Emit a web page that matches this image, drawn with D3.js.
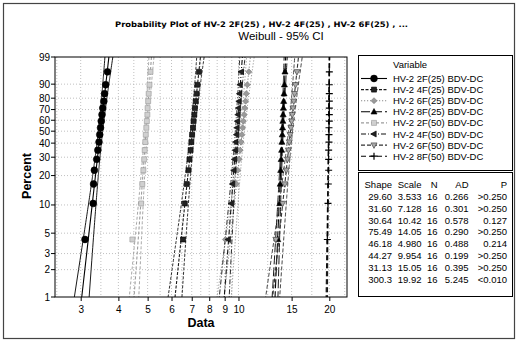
<!DOCTYPE html>
<html><head><meta charset="utf-8">
<script src="https://cdn.jsdelivr.net/npm/d3@7"></script>
<style>body{margin:0;background:#fff}svg{display:block}</style>
</head><body>
<script>
// ---------------- data ----------------
const seriesNames = ["HV-2 2F(25) BDV-DC","HV-2 4F(25) BDV-DC","HV-2 6F(25) BDV-DC","HV-2 8F(25) BDV-DC",
                     "HV-2 2F(50) BDV-DC","HV-2 4F(50) BDV-DC","HV-2 6F(50) BDV-DC","HV-2 8F(50) BDV-DC"];
const percentRanks = [4.27,10.37,16.46,22.56,28.66,34.76,40.85,46.95,53.05,59.15,65.24,71.34,77.44,83.54,89.63,95.73];
const s2F25 = [3.10,3.30,3.31,3.33,3.39,3.42,3.45,3.47,3.49,3.51,3.53,3.55,3.58,3.60,3.63,3.68];
const s4F25 = [6.55,6.64,6.74,6.83,6.88,6.94,6.98,7.02,7.07,7.10,7.14,7.17,7.22,7.27,7.31,7.40];
const s6F25 = [9.05,9.55,9.85,9.95,10.05,10.13,10.20,10.27,10.32,10.38,10.45,10.50,10.56,10.62,10.70,10.82];
const s8F25 = [13.5,13.7,13.75,13.8,13.85,13.9,13.93,13.97,14.0,14.03,14.06,14.09,14.12,14.16,14.2,14.26];
const s2F50 = [4.45,4.76,4.80,4.84,4.87,4.89,4.91,4.93,4.95,4.97,4.99,5.00,5.02,5.04,5.07,5.11];
const s4F50 = [9.25,9.48,9.56,9.66,9.71,9.77,9.80,9.86,9.89,9.93,9.97,10.0,10.05,10.09,10.13,10.22];
const s6F50 = [13.3,14.0,14.25,14.4,14.53,14.64,14.74,14.83,14.92,15.0,15.08,15.16,15.24,15.34,15.45,15.62];
const s8F50 = [19.7,19.8,19.85,19.9,19.9,19.9,19.95,19.95,19.95,20.0,20.0,20.0,20.0,20.0,20.0,20.0];
const shapes = [29.60,31.60,30.64,75.49,46.18,44.27,31.13,300.3];
const scales = [3.533,7.128,10.42,14.05,4.980,9.954,15.05,19.92];
const shapeLabels = ["29.60","31.60","30.64","75.49","46.18","44.27","31.13","300.3"];
const scaleLabels = ["3.533","7.128","10.42","14.05","4.980","9.954","15.05","19.92"];
const nLabels = ["16","16","16","16","16","16","16","16"];
const adLabels = ["0.266","0.301","0.578","0.290","0.488","0.199","0.395","5.245"];
const pLabels = [">0.250",">0.250","0.127",">0.250","0.214",">0.250",">0.250","<0.010"];
const yTicks = [1,2,3,5,10,20,30,40,50,60,70,80,90,99];
const xTicks = [3,4,5,6,7,8,9,10,15,20];
const xGrid = [2.5,3,3.5,4,4.5,5,5.5,6,6.5,7,7.5,8,8.5,9,9.5,10,12.5,15,17.5,20,22.5];
const allSeries = [s2F25,s4F25,s6F25,s8F25,s2F50,s4F50,s6F50,s8F50];

// ---------------- styles ----------------
const styles = [
  {stroke:"#000", dash:null,      fill:"#000", mstroke:"#000", sym:"circle", size:3.4},
  {stroke:"#1a1a1a", dash:"3,1.5", fill:"#222", mstroke:"#000", sym:"square", size:5},
  {stroke:"#8a8a8a", dash:"1.2,1.8", fill:"#9a9a9a", mstroke:"#777", sym:"diamond", size:6},
  {stroke:"#000", dash:"9,3",     fill:"#000", mstroke:"#000", sym:"triUp", size:5.5},
  {stroke:"#9c9c9c", dash:"3,2",  fill:"#d0d0d0", mstroke:"#999", sym:"square", size:5},
  {stroke:"#111", dash:"5,2,1,2", fill:"#222", mstroke:"#000", sym:"triLeft", size:5.5},
  {stroke:"#333", dash:"4,2",     fill:"#aaa", mstroke:"#333", sym:"triDown", size:5.5},
  {stroke:"#000", dash:"5,3",     fill:"none", mstroke:"#000", sym:"plus", size:3.5}
];

const W = 519, H = 345;
const svg = d3.select("body").append("svg").attr("width",W).attr("height",H);
const FONT = "'Liberation Sans', Arial, sans-serif";

// frame
svg.append("rect").attr("x",3.5).attr("y",3.5).attr("width",511).attr("height",335)
  .attr("fill","none").attr("stroke","#444").attr("stroke-width",1.2);

// titles
svg.append("text").attr("x",261.5).attr("y",26.5).attr("text-anchor","middle")
  .attr("font-family","'DejaVu Sans', Verdana, sans-serif").attr("font-weight","bold").attr("font-size",7.6)
  .attr("textLength",293).attr("lengthAdjust","spacingAndGlyphs")
  .text("Probability Plot of HV-2 2F(25) , HV-2 4F(25) , HV-2 6F(25) , ...");
svg.append("text").attr("x",281).attr("y",40).attr("text-anchor","middle")
  .attr("font-family",FONT).attr("font-size",11.5).text("Weibull - 95% CI");

// plot area
const L = 55, R = 347, T = 57, B = 297;
const wt = p => Math.log(-Math.log(1 - p));
const yLin = d3.scaleLinear().domain([wt(0.01), wt(0.99)]).range([B, T]);
const y = pct => yLin(wt(pct/100));
const x = d3.scaleLog().domain([2.466, 22.89]).range([L, R]);

svg.append("defs").append("clipPath").attr("id","clip")
  .append("rect").attr("x",L).attr("y",T).attr("width",R-L).attr("height",B-T);

// gridlines
const grid = svg.append("g").attr("stroke","#b0b0b0").attr("stroke-width",0.8).attr("stroke-dasharray","1,2");
grid.selectAll("line.h").data(yTicks.filter(d=>d>1 && d<99)).join("line")
  .attr("x1",L).attr("x2",R).attr("y1",d=>y(d)).attr("y2",d=>y(d));
grid.selectAll("line.v").data(xGrid.filter(d=>x(d)>L+1 && x(d)<R-1)).join("line").attr("class","v")
  .attr("x1",d=>x(d)).attr("x2",d=>x(d)).attr("y1",T).attr("y2",B);

// axes
const gy = svg.append("g");
yTicks.forEach(t=>{
  gy.append("line").attr("x1",L-4).attr("x2",L).attr("y1",y(t)).attr("y2",y(t)).attr("stroke","#000");
  gy.append("text").attr("x",L-5).attr("y",y(t)+3.5).attr("text-anchor","end")
    .attr("font-family",FONT).attr("font-size",10).text(t);
});
const gx = svg.append("g").attr("transform",`translate(0,${B})`)
  .call(d3.axisBottom(x).tickValues(xTicks).tickFormat(d3.format("d")).tickSize(4).tickSizeOuter(0));
gx.select(".domain").remove();
gx.selectAll("text").attr("font-family",FONT).attr("font-size",10).attr("dy","0.9em");

svg.append("text").attr("x",201).attr("y",327).attr("text-anchor","middle")
  .attr("font-family",FONT).attr("font-weight","bold").attr("font-size",12.5).text("Data");
svg.append("text").attr("transform","translate(31,176) rotate(-90)").attr("text-anchor","middle")
  .attr("font-family",FONT).attr("font-weight","bold").attr("font-size",12.5).text("Percent");

// symbol helper
function symPath(s, k){
  switch(s){
    case "circle": return d3.symbol(d3.symbolCircle, Math.PI*k*k)();
    case "square": return `M${-k/2},${-k/2}h${k}v${k}h${-k}Z`;
    case "diamond": return `M0,${-k/2}L${k/2},0L0,${k/2}L${-k/2},0Z`;
    case "triUp": return `M0,${-k*0.6}L${k*0.55},${k*0.4}L${-k*0.55},${k*0.4}Z`;
    case "triDown": return `M0,${k*0.6}L${k*0.55},${-k*0.4}L${-k*0.55},${-k*0.4}Z`;
    case "triLeft": return `M${-k*0.6},0L${k*0.4},${-k*0.55}L${k*0.4},${k*0.55}Z`;
    case "plus": return `M${-k},0H${k}M0,${-k}V${k}`;
  }
}

// fit and CI lines
const plot = svg.append("g").attr("clip-path","url(#clip)");
const pGrid = d3.range(0.005, 0.9951, 0.005);
const n = 16, z = 1.96;
allSeries.forEach((vals,i)=>{
  const st = styles[i];
  const b = 1/shapes[i], u = Math.log(scales[i]);
  const fit = [], lo = [], hi = [];
  pGrid.forEach(p=>{
    const w = wt(p);
    const q = u + w*b;
    const se = b/Math.sqrt(n)*Math.sqrt(1.109 + 0.514*w + 0.608*w*w);
    fit.push([Math.exp(q), p*100]);
    lo.push([Math.exp(q - z*se), p*100]);
    hi.push([Math.exp(q + z*se), p*100]);
  });
  const line = d3.line().x(d=>x(d[0])).y(d=>y(d[1]));
  [fit,lo,hi].forEach((arr,j)=>{
    plot.append("path").attr("d",line(arr)).attr("fill","none")
      .attr("stroke",st.stroke).attr("stroke-width", j===0?1.1:0.9)
      .attr("stroke-dasharray",st.dash);
  });
});
allSeries.forEach((vals,i)=>{
  const st = styles[i];
  plot.append("g").selectAll("path").data(vals).join("path")
    .attr("transform",(d,k)=>`translate(${x(d)},${y(percentRanks[k])})`)
    .attr("d",symPath(st.sym, st.size))
    .attr("fill",st.fill).attr("stroke",st.mstroke).attr("stroke-width",st.sym==="plus"?1.2:0.6);
});

// plot border
svg.append("rect").attr("x",L).attr("y",T).attr("width",R-L).attr("height",B-T)
  .attr("fill","none").attr("stroke","#000").attr("stroke-width",1);

// legend
const lg = svg.append("g");
lg.append("rect").attr("x",358.5).attr("y",55.5).attr("width",154).attr("height",115)
  .attr("fill","#fff").attr("stroke","#000");
lg.append("text").attr("x",393).attr("y",68).attr("font-family",FONT).attr("font-size",9.5).text("Variable");
seriesNames.forEach((nm,i)=>{
  const yy = 78.5 + i*11.1;
  const st = styles[i];
  lg.append("line").attr("x1",361).attr("x2",387).attr("y1",yy).attr("y2",yy)
    .attr("stroke",st.stroke).attr("stroke-width",1.1).attr("stroke-dasharray",st.dash);
  lg.append("path").attr("transform",`translate(374,${yy})`).attr("d",symPath(st.sym, st.size))
    .attr("fill",st.fill).attr("stroke",st.mstroke).attr("stroke-width",st.sym==="plus"?1.2:0.6);
  lg.append("text").attr("x",393).attr("y",yy+3.5).attr("font-family",FONT).attr("font-size",9.5).text(nm);
});

// stats table
const tb = svg.append("g");
tb.append("rect").attr("x",358.5).attr("y",172.5).attr("width",154).attr("height",124)
  .attr("fill","#fff").attr("stroke","#000");
const cols = [{h:"Shape",x:392,d:shapeLabels},{h:"Scale",x:421.5,d:scaleLabels},{h:"N",x:437.5,d:nLabels},
              {h:"AD",x:468.5,d:adLabels},{h:"P",x:507,d:pLabels}];
cols.forEach(c=>{
  tb.append("text").attr("x",c.x).attr("y",188).attr("text-anchor","end")
    .attr("font-family",FONT).attr("font-size",9.5).text(c.h);
  c.d.forEach((v,k)=>{
    tb.append("text").attr("x",c.x).attr("y",200+k*11.8).attr("text-anchor","end")
      .attr("font-family",FONT).attr("font-size",9.5).text(v);
  });
});
</script>
</body></html>
